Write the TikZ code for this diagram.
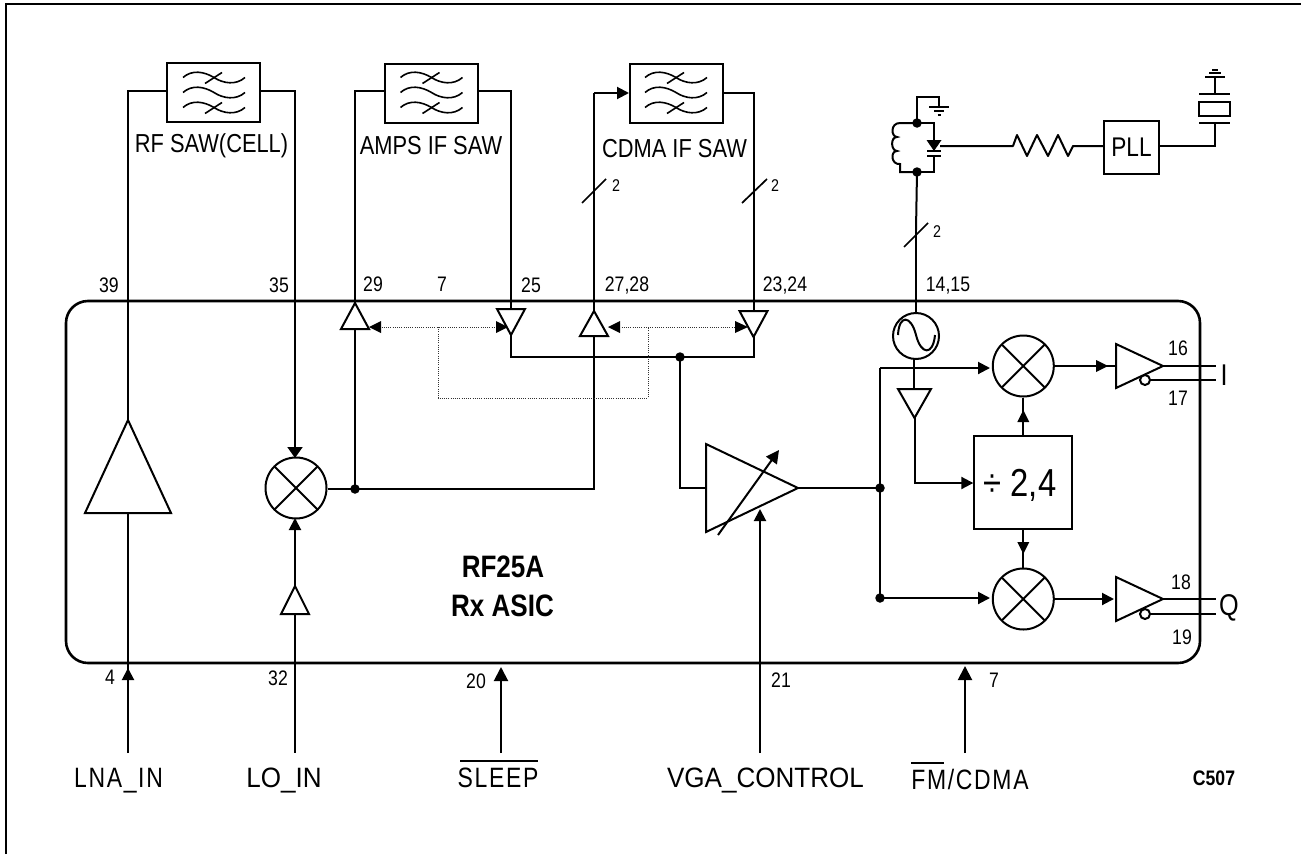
\documentclass[tikz,border=0pt]{standalone}
\usepackage{fontspec}
\setmainfont{Liberation Sans}
\newfontfamily\nar[FakeStretch=0.84]{Liberation Sans}
\newfontfamily\narb[FakeStretch=0.84]{Liberation Sans Bold}
\newfontfamily\narw[FakeStretch=0.93]{Liberation Sans}
\newfontfamily\narsp[FakeStretch=0.82,LetterSpace=6]{Liberation Sans}
\usetikzlibrary{arrows.meta,calc}
\tikzset{
 wire/.style={line width=2pt,draw=black},
 arr/.style={wire,-{Triangle[length=12pt,width=12pt]}},
 arrbig/.style={wire,-{Triangle[length=14pt,width=14pt]}},
 dotline/.style={line width=0.9pt,draw=black!80,dash pattern=on 1pt off 1.2pt},
 dot/.style={circle,fill=black,inner sep=0pt,minimum size=9.5pt},
 blk/.style={draw=black,line width=2pt,fill=white,inner sep=0pt},
 mixer/.style={circle,draw=black,line width=2pt,fill=white,minimum size=60pt,inner sep=0pt,
   path picture={\draw[line width=2pt] (path picture bounding box.north west)--(path picture bounding box.south east)
     (path picture bounding box.north east)--(path picture bounding box.south west);}},
 sawlab/.style={inner sep=0pt,anchor=base,font=\nar\fontsize{26}{28}\selectfont,text=black},
 botlab/.style={inner sep=0pt,anchor=base,font=\narw\fontsize{28}{30}\selectfont,text=black},
 botsp/.style={inner sep=0pt,anchor=base,font=\narsp\fontsize{28}{30}\selectfont,text=black},
 pin/.style={inner sep=0pt,anchor=base,font=\nar\fontsize{21}{23}\selectfont,text=black},
 big/.style={inner sep=0pt,anchor=base,font=\nar\fontsize{30}{32}\selectfont,text=black},
 tiny/.style={inner sep=0pt,font=\nar\fontsize{17}{19}\selectfont,text=black},
 title/.style={inner sep=0pt,anchor=base,font=\narb\fontsize{31}{33}\selectfont,text=black},
}
\newcommand{\vamp}[5]{\draw[wire,fill=white] (#2-#4,#3+#5)--(#2,#3)--(#2+#4,#3+#5)--cycle;
  \coordinate (#1apex) at (#2,#3); \coordinate (#1base) at (#2,#3+#5);}
\newcommand{\hamp}[5]{\draw[wire,fill=white] (#2-#5,#3-#4)--(#2,#3)--(#2-#5,#3+#4)--cycle;
  \coordinate (#1apex) at (#2,#3); \coordinate (#1base) at (#2-#5,#3);}
\newcommand{\sawsym}[1]{\begin{scope}[shift={(#1)},line width=1.6pt]
 \foreach \dy in {-15,0,15}{\draw (-31,\dy) .. controls (-22,\dy-8) and (-10,\dy-6) .. (0,\dy) .. controls (9,\dy+6) and (22,\dy+8) .. (31,\dy);}
 \foreach \dy in {-15,15}{\draw (-9,\dy+6) -- (8,\dy-5);}
 \end{scope}}
\begin{document}
\begin{tikzpicture}[x=1pt,y=-1pt]
\useasboundingbox (0,0) rectangle (1301,854);
\draw[line width=2.2pt] (6,854)--(6,4)--(1301,4);
% chip
\node[draw=black,line width=2.6pt,rounded corners=22pt,minimum width=1134pt,minimum height=362pt,inner sep=0pt] (chip) at (633,482) {};
% SAW
\node[blk,minimum width=93pt,minimum height=59pt] (saw1) at (213.7,92.5) {};
\node[blk,minimum width=93pt,minimum height=59pt] (saw2) at (431.5,93) {};
\node[blk,minimum width=93pt,minimum height=59pt] (saw3) at (676.5,93) {};
\sawsym{214,92.5} \sawsym{431.5,92.5} \sawsym{676,92.5}
\node[sawlab] at (211.5,152) {RF SAW(CELL)};
\node[sawlab] at (431,154) {AMPS IF SAW};
\node[sawlab] at (674.5,157) {CDMA IF SAW};
% junctions
\node[dot] (jm) at (355,489) {};
\node[dot] (jb) at (680,357) {};
\node[dot] (jv) at (880,488) {};
\node[dot] (jq) at (880,598) {};
% wires through the top
\draw[wire] (saw1.west|-0,91) -- (128,91) -- (128,420);
\draw[wire] (saw1.east|-0,91) -- (294.5,91) -- (294.5,450);
\draw[wire] (saw2.west|-0,91) -- (355,91) -- (jm.center);
\draw[wire] (saw2.east|-0,91) -- (511,91) -- (511,357) -- (753.5,357) -- (753.5,93) -- (saw3.east|-0,93);
\draw[wire] (jm.center) -- (594,489) -- (594,93);
\draw[arr] (594,93) -- (saw3.west|-0,93);
% small triangles
\vamp{a29}{355}{303}{14}{26}
\vamp{a25}{511}{335}{14}{-26}
\vamp{a27}{594}{311}{14}{25}
\vamp{a23}{753.5}{337}{14}{-26}
% dotted
\draw[dotline] (438,327)--(438,398)--(648,398)--(648,327);
\draw[dotline] (375,327)--(500,327);
\draw[dotline] (615,327)--(740,327);
\fill (369,327)--(381,321)--(381,333)--cycle;
\fill (508,327)--(496,321)--(496,333)--cycle;
\fill (608,327)--(620,321)--(620,333)--cycle;
\fill (748,327)--(735,321)--(735,333)--cycle;
% slashes
\draw[wire,line width=1.7pt] (582,203)--(606,179);
\draw[wire,line width=1.7pt] (742,203)--(767,179);
\draw[wire,line width=1.7pt] (904,247)--(928,223);
\node[tiny] at (616,186) {2};
\node[tiny] at (775,186) {2};
\node[tiny] at (937,232) {2};
% pin numbers
\foreach \t/\x/\y in {39/109/285,35/279/285,29/373/284,7/442/284,25/531/285,{27,28}/627/284,{23,24}/785/284,{14,15}/948/284,
  16/1178/348,17/1178/398,18/1181/582,19/1182/637,4/110/677,32/278/678,20/476/681,21/781/680,7/994/680}
  \node[pin] at (\x,\y+7.5) {\t};
% LNA
\vamp{lna}{128}{420}{43}{93}
\draw[wire] (lnabase) -- (128,670);
% LO mixer
\node[mixer,minimum size=61pt] (m1) at (296,488) {};
\draw[wire] (m1.east|-jm) -- (jm.center);
\draw[wire,-{Triangle[length=11pt,width=15pt]}] (295,440) -- (295,458);
\vamp{lo}{295}{586}{14}{28}
\draw[arr] (loapex) -- (295,518);
\draw[wire] (lobase) -- (295,753);
\draw[arr] (128,753) -- (128,668);
\draw[arrbig] (501,753) -- (501,667);
\draw[arrbig] (965,753) -- (965,666);
% VGA
\draw[wire] (jb.center) -- (680,488) -- (706,488);
\draw[wire,fill=white] (706,444)--(798,488)--(706,532)--cycle;
\coordinate (vgaout) at (798,488);
\coordinate (vgaa) at (718,535);
\coordinate (vgab) at (779,450);
\draw[wire,-{Triangle[length=13pt,width=13pt]}] (vgaa) -- (vgab);
\draw[arr] (760,753) -- (760,509);
\draw[wire] (vgaout) -- (jv.center);
% I/Q
\node[mixer,minimum size=61pt] (mi) at (1023.3,366) {};
\node[mixer,minimum size=61pt] (mq) at (1023.3,599) {};
\node[blk,minimum width=98pt,minimum height=93pt] (div) at (1023.3,482.5) {};
\node[inner sep=0pt,anchor=base,font=\nar\fontsize{39}{41}\selectfont] (divt) at (1020,496) {÷ 2,4};
\draw[wire] (div.north) -- (mi.south);
\draw[wire] (div.south) -- (mq.north);
\fill (1023.3,410)--(1017.3,422)--(1029.3,422)--cycle;
\fill (1023.3,554)--(1017.3,542)--(1029.3,542)--cycle;
\draw[arr] (880,368) -- (990,368);
\draw[wire] (880,368) -- (jq.center);
\draw[arr] (jq.center) -- (990,598);
% oscillator
\node[circle,draw=black,line width=2pt,fill=white,minimum size=46pt,inner sep=0pt] (osc) at (916,336) {};
\draw[line width=2pt] (898,335) .. controls (899,314) and (911,315) .. (916,335) .. controls (921,355) and (933,356) .. (935,335);
\draw[wire] (916,230) -- (osc.north);
\draw[wire] (914,358) -- (914,390);
\vamp{lo2}{914.5}{418}{16.5}{-29}
\draw[arr] (914.5,418) -- (914.5,483) -- (div.west|-0,483);
% output buffers
\draw[wire] (mi.east) -- (1116,366);
\fill (1108,366)--(1096,360)--(1096,372)--cycle;
\hamp{bi}{1163}{366}{22}{47}
\hamp{bq}{1163}{599}{22}{47}
\draw[arr] (mq.east) -- (1114,599);
\draw[wire] (biapex) -- (1216,366);
\draw[wire] (bqapex) -- (1216,599);
\node[circle,draw=black,line width=2pt,fill=white,minimum size=10pt,inner sep=0pt] (bub1) at (1145,380) {};
\node[circle,draw=black,line width=2pt,fill=white,minimum size=10pt,inner sep=0pt] (bub2) at (1145,614) {};
\draw[wire] (bub1) -- (1216,380);
\draw[wire] (bub2) -- (1216,614);
\node[big] at (1224,385) {I};
\node[big] at (1229,615) {Q};
% title
\node[title] at (503,577) {RF25A};
\node[title] at (502.5,616) {Rx ASIC};
% bottom labels
\node[botsp] at (118.5,787) {LNA\_IN};
\node[botlab] at (284,787) {LO\_IN};
\node[botsp] at (498,787) {SLEEP};
\draw[line width=1.5pt] (460,761)--(538,761);
\node[botlab] at (765.5,787) {VGA\_CONTROL};
\node[botsp] at (970,789) {FM/CDMA};
\draw[line width=1.5pt] (911,763)--(944,763);
\node[inner sep=0pt,anchor=base,font=\narb\fontsize{21}{23}\selectfont] at (1214,785) {C507};
% tank
\node[dot] (t1) at (917,123) {};
\node[dot] (t2) at (917,172) {};
\draw[wire] (t1.center) -- (917,97) -- (939,97) -- (939,107);
\draw[wire] (929,107)--(949,107) (934,111)--(944,111);
\draw[wire] (937.5,115)--(941,115);
\draw[wire] (917,172) -- (916,230);
\draw[wire] (t1.center) -- (900,123) .. controls (890,123) and (891,137) .. (897,137) .. controls (890,137) and (891,151) .. (897,151) .. controls (890,151) and (891,165) .. (900,164) -- (900,172) -- (t2.center);
\draw[wire] (t1.center) -- (934,123) -- (934,140);
\draw[wire] (t2.center) -- (934,172) -- (934,156);
\fill (926.5,140)--(941.5,140)--(934,151)--cycle;
\draw[wire] (927,151)--(941,151) (927,156)--(941,156);
% resistor / PLL / crystal
\node[blk,minimum width=55pt,minimum height=53pt] (pll) at (1131.5,147.5) {};
\node[inner sep=0pt,font=\nar\fontsize{27}{29}\selectfont] (pllt) at (pll) {PLL};
\draw[wire,line join=round] (940,146) -- (1013,146) -- (1017,135) -- (1027,156) -- (1037,135) -- (1048,156) -- (1058,135) -- (1068,156) -- (1073,146) -- (pll.west|-0,146);
\draw[wire] (pll.east|-0,146) -- (1215,146) -- (1215,123);
\draw[wire] (1199,123)--(1230,123) (1199,94)--(1230,94);
\draw[wire] (1199,102) rectangle (1230,116);
\draw[wire] (1215,94)--(1215,77) (1205,77)--(1225,77) (1209,73)--(1221,73) (1212,69.5)--(1218,69.5);
\end{tikzpicture}
\end{document}
